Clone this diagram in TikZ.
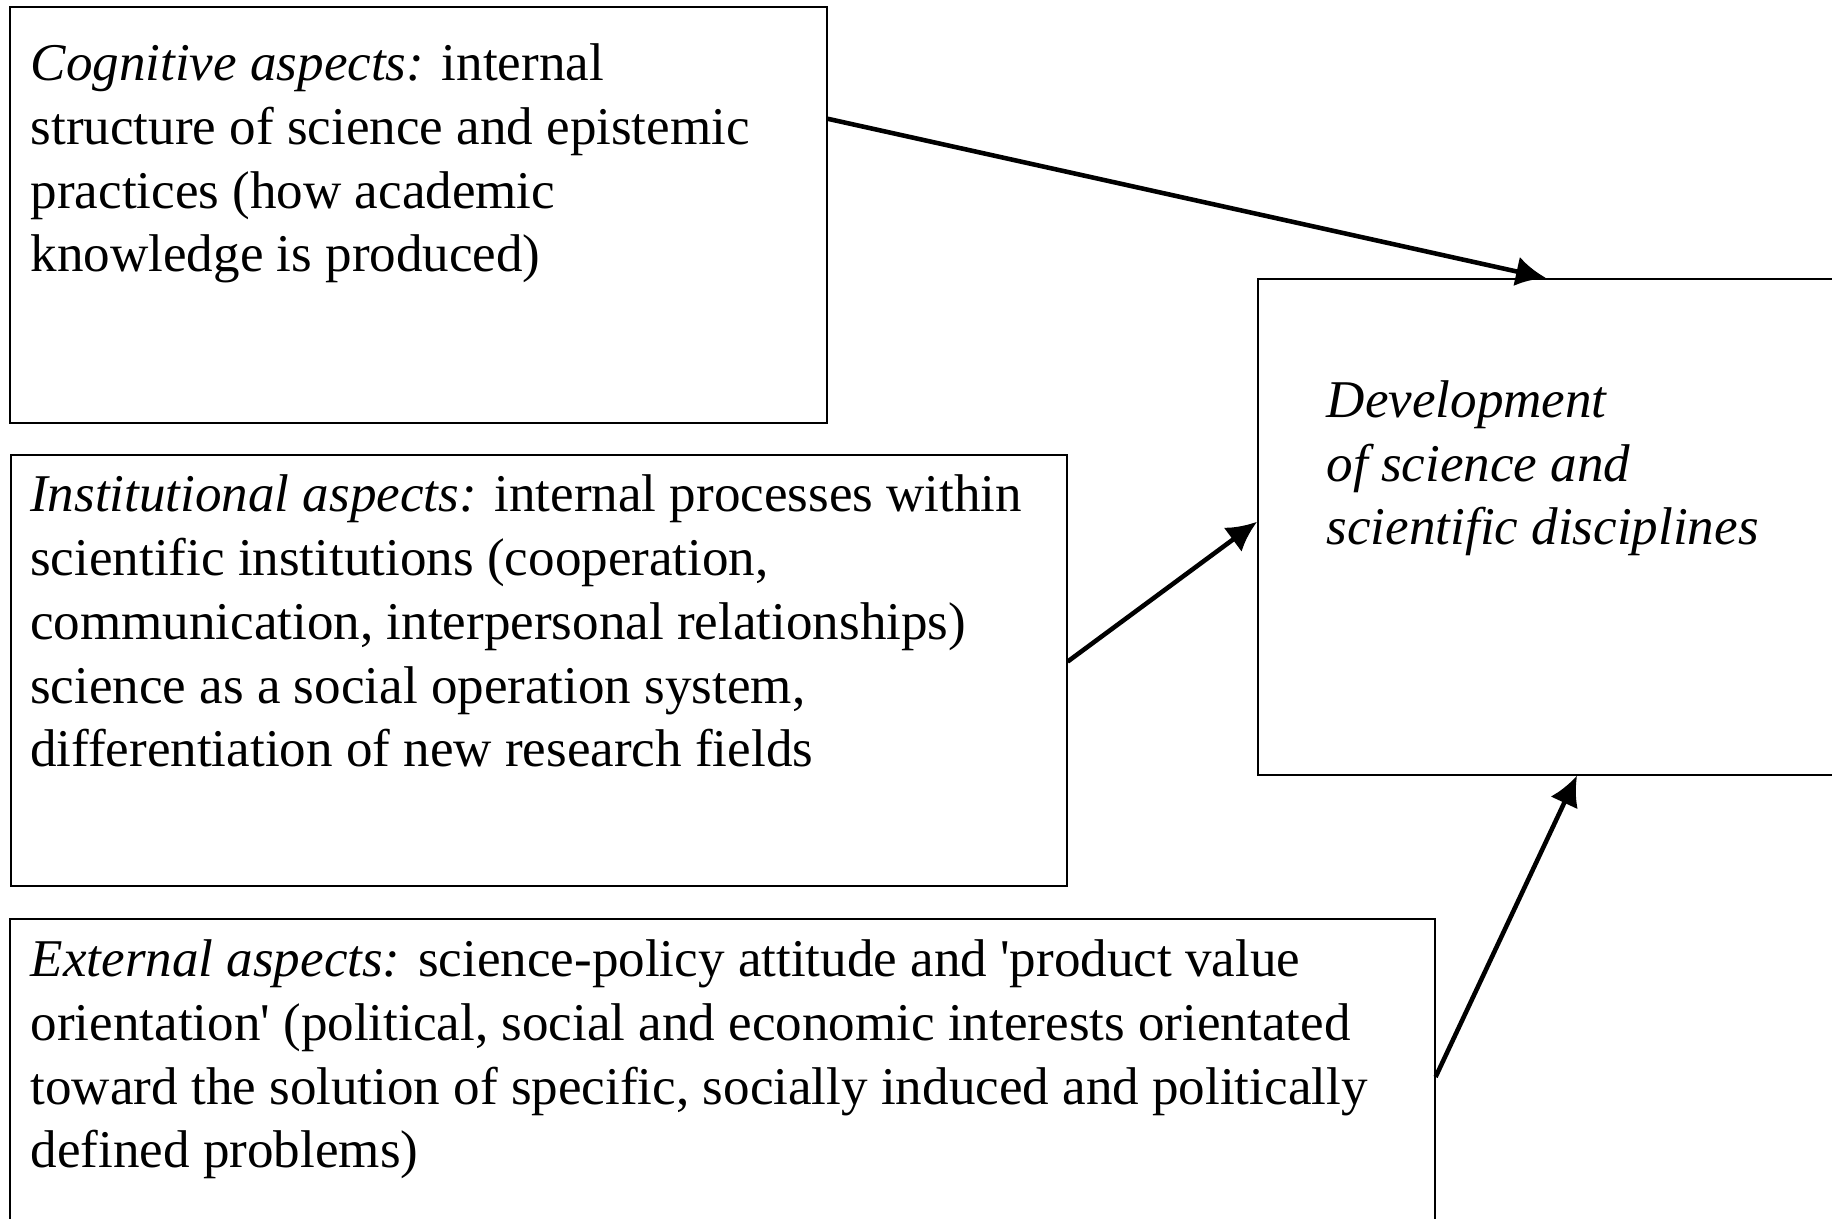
\documentclass[tikz,border=0pt]{standalone}
\usepackage{fontspec}
\setmainfont{Liberation Serif}
\usetikzlibrary{calc}
\usetikzlibrary{positioning}
\usetikzlibrary{arrows.meta}

\begin{document}
\begin{tikzpicture}
    \tikzstyle{box}=[draw, line width=0.45pt, anchor=north west, inner sep=0pt]
    \tikzstyle{txt}=[anchor=base west, align=left, inner sep=0pt, font=\fontsize{15.1}{18.2}\selectfont]
    \tikzstyle{link}=[line width=1.3pt, -{Latex[length=3mm, width=3mm]}]

    \clip (0, 0) rectangle (18.32, -12.19);

    % boxes
    \node[box, minimum width=8.17cm, minimum height=4.16cm] (cog) at (0.09, -0.06) {};
    \node[box, minimum width=10.56cm, minimum height=4.31cm] (inst) at (0.10, -4.54) {};
    \node[box, minimum width=14.25cm, minimum height=4.00cm] (ext) at (0.09, -9.18) {};
    \node[box, minimum width=6.50cm, minimum height=4.96cm] (dev) at (12.57, -2.78) {};

    % texts (anchored at the baseline of the last line)
    \node[txt] (cogtext) at ($(cog.north west)+(0.21, -2.66)$) {\textit{Cognitive aspects:} internal\\
      structure of science and epistemic\\
      practices (how academic\\
      knowledge is produced)};
    \node[txt] (insttext) at ($(inst.north west)+(0.195, -3.13)$) {\textit{Institutional aspects:} internal processes within\\
      scientific institutions (cooperation,\\
      communication, interpersonal relationships)\\
      science as a social operation system,\\
      differentiation of new research fields};
    \node[txt] (exttext) at ($(ext.north west)+(0.21, -2.50)$) {\textit{External aspects:} science-policy attitude and \textquotesingle product value\\
      orientation\textquotesingle{} (political, social and economic interests orientated\\
      toward the solution of specific, socially induced and politically\\
      defined problems)};
    \node[txt] (devtext) at ($(dev.north west)+(0.69, -2.67)$) {\textit{Development}\\
      \textit{of science and}\\
      \textit{scientific disciplines}};

    % arrows
    \draw[link] ($(cog.north east)!0.27!(cog.south east)$) -- ($(dev.north west)+(2.89, 0)$);
    \draw[link] ($(inst.north east)!0.48!(inst.south east)$) -- ($(dev.north west)!0.49!(dev.south west)$);
    \draw[link] ($(ext.north east)+(0, -1.59)$) -- ($(dev.south west)+(3.2, 0)$);
  \end{tikzpicture}
\end{document}
